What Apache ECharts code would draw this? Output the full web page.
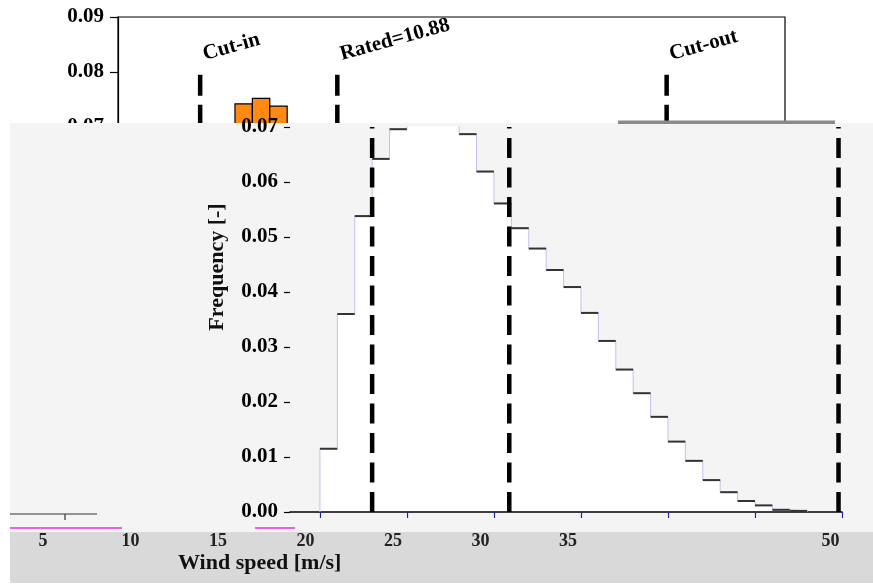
<!DOCTYPE html>
<html><head><meta charset="utf-8">
<script src="https://cdn.jsdelivr.net/npm/echarts@6/dist/echarts.min.js"></script>
<style>html,body{margin:0;padding:0;background:#fff}#c{width:873px;height:584px}</style>
</head><body><div id="c"></div>
<script>
// ---- data ----
const binStarts = [0,1,2,3,4,5,6,7,8,9,10,11,12,13,14,15,16,17,18,19,20,21,22,23,24,25,26,27];
const frequency = [0.0115,0.0360,0.0538,0.0642,0.0696,0.0742,0.0752,0.0738,0.0687,0.0619,0.0561,0.0516,0.0479,0.0440,0.0409,0.0362,0.0311,0.0259,0.0216,0.0173,0.0128,0.0093,0.0058,0.0036,0.0020,0.0012,0.0004,0.0002];
const binWidth = 1;
const markerSpeeds = [3, 10.88, 29.8];
const markerNames = ['Cut-in', 'Rated=10.88', 'Cut-out'];
const xTickValues = [0,5,10,15,20,25,30];
const xLabelValues = [5,10,15,20,25,30,35,50];
const xAxisTitle = 'Wind speed [m/s]';
const yAxisTitle = 'Frequency [-]';

// ---- layout ----
const SERIF = '"Liberation Serif", "DejaVu Serif", serif';
const topYMin = 0.07, topYMax = 0.09, lowYMax = 0.07;
const markerTop = 0.0795, markerTextY = 0.0813;

const chart = echarts.init(document.getElementById('c'));

const stepPoints = [[binStarts[0], 0]]
  .concat(binStarts.map((s, i) => [s, frequency[i]]))
  .concat([[binStarts[binStarts.length-1] + binWidth, frequency[frequency.length-1]],
           [binStarts[binStarts.length-1] + binWidth, 0]]);

const topBarData = binStarts.map((s, i) => [s, frequency[i]]).filter(d => d[1] > topYMin);

const option = {
  animation: false,
  backgroundColor: '#fff',
  grid: [
    {left: 118, top: 17, width: 667, height: 110, show: true, borderColor: '#000', borderWidth: 1.2, z: 0},
    {left: 290, top: 127, width: 552, height: 385},
    {left: 43, top: 500, width: 787.5, height: 30}
  ],
  xAxis: [
    {gridIndex: 0, type: 'value', min: -1.72, max: 36.6, show: false, z: 0},
    {gridIndex: 1, type: 'value', min: -1.72, max: 30, z: 3,
      axisLine: {show: true, onZero: false, lineStyle: {color: '#000', width: 1.5}},
      axisTick: {show: true, length: 6, customValues: xTickValues, lineStyle: {color: '#2323a8', width: 1.2}},
      axisLabel: {show: false}, splitLine: {show: false}},
    {gridIndex: 2, type: 'value', min: 5, max: 50, z: 3,
      axisLine: {show: false, onZero: false}, axisTick: {show: false}, splitLine: {show: false},
      axisLabel: {show: true, customValues: xLabelValues, margin: 2,
        fontFamily: SERIF, fontWeight: 'bold', fontSize: 18, color: '#222'}}
  ],
  yAxis: [
    {gridIndex: 0, type: 'value', min: topYMin, max: topYMax, interval: 0.01, z: 0,
      axisLine: {show: true, onZero: false, lineStyle: {color: '#000', width: 1.2}},
      axisTick: {show: true, length: 8, lineStyle: {color: '#000', width: 1.2}},
      axisLabel: {margin: 14, formatter: v => v.toFixed(2), fontFamily: SERIF, fontWeight: 'bold', fontSize: 21, color: '#000'},
      splitLine: {show: false}},
    {gridIndex: 1, type: 'value', min: 0, max: lowYMax, interval: 0.01, z: 3,
      axisLine: {show: false, onZero: false},
      axisTick: {show: true, length: 6, lineStyle: {color: '#000', width: 1.2}},
      axisLabel: {margin: 12, formatter: v => v.toFixed(2), fontFamily: SERIF, fontWeight: 'bold', fontSize: 21, color: '#000'},
      splitLine: {show: false}},
    {gridIndex: 2, type: 'value', show: false, min: 0, max: 1}
  ],
  series: [
    {
      type: 'custom', name: 'topBars', xAxisIndex: 0, yAxisIndex: 0, z: 0, clip: true,
      data: topBarData,
      renderItem: (params, api) => {
        const p0 = api.coord([api.value(0), api.value(1)]);
        const p1 = api.coord([api.value(0) + binWidth, topYMin]);
        return {type: 'rect', shape: {x: p0[0], y: p0[1], width: p1[0] - p0[0], height: p1[1] - p0[1]},
          style: {fill: '#ff8a12', stroke: '#000', lineWidth: 1.2}};
      }
    },
    {
      type: 'custom', name: 'topMarkers', xAxisIndex: 0, yAxisIndex: 0, z: 0,
      data: markerSpeeds.map((s, i) => [s, i]),
      renderItem: (params, api) => {
        const s = api.value(0);
        const a = api.coord([s, markerTop]);
        const b = api.coord([s, topYMin]);
        const t = api.coord([s, markerTextY]);
        return {type: 'group', children: [
          {type: 'line', shape: {x1: a[0], y1: a[1], x2: b[0], y2: b[1]},
            style: {stroke: '#000', lineWidth: 4.5, lineDash: [21, 9]}},
          {type: 'text', x: t[0] + 6, y: t[1], rotation: 0.27,
            style: {text: markerNames[params.dataIndex], x: 0, y: 0, align: 'left', verticalAlign: 'bottom',
              font: 'bold 21px ' + SERIF, fill: '#000'}}
        ]};
      }
    },
    {
      type: 'line', name: 'Frequency', xAxisIndex: 1, yAxisIndex: 1, z: 3,
      step: 'end', symbol: 'none', data: stepPoints,
      lineStyle: {color: '#c2c2ee', width: 1},
      areaStyle: {color: '#ffffff', opacity: 1}
    },
    {
      type: 'custom', name: 'stepTops', xAxisIndex: 1, yAxisIndex: 1, z: 4, clip: true,
      data: binStarts.map((s, i) => [s, frequency[i]]),
      renderItem: (params, api) => {
        const a = api.coord([api.value(0), api.value(1)]);
        const b = api.coord([api.value(0) + binWidth, api.value(1)]);
        return {type: 'line', shape: {x1: a[0], y1: a[1], x2: b[0], y2: b[1]},
          style: {stroke: '#333', lineWidth: 2}};
      }
    },
    {
      type: 'custom', name: 'lowMarkers', xAxisIndex: 1, yAxisIndex: 1, z: 5,
      data: markerSpeeds.map((s, i) => [s, i]),
      renderItem: (params, api) => {
        const a = api.coord([api.value(0), 0]);
        const b = api.coord([api.value(0), lowYMax]);
        return {type: 'line', shape: {x1: a[0], y1: a[1], x2: b[0], y2: b[1]},
          style: {stroke: '#000', lineWidth: 4.5, lineDash: [20, 9.5]}};
      }
    }
  ],
  graphic: {elements: [
    {type: 'rect', z: 1, silent: true, shape: {x: 10, y: 123, width: 863, height: 409}, style: {fill: '#f4f4f4'}},
    {type: 'rect', z: 1, silent: true, shape: {x: 10, y: 532, width: 863, height: 51}, style: {fill: '#d9d9d9'}},
    {type: 'rect', z: 6, silent: true, shape: {x: 618, y: 120.5, width: 217, height: 3.5}, style: {fill: '#8a8a8a'}},
    {type: 'line', z: 6, silent: true, shape: {x1: 10, y1: 514, x2: 97, y2: 514}, style: {stroke: '#333', lineWidth: 1.2}},
    {type: 'line', z: 6, silent: true, shape: {x1: 65, y1: 514, x2: 65, y2: 520}, style: {stroke: '#333', lineWidth: 1.2}},
    {type: 'line', z: 6, silent: true, shape: {x1: 10, y1: 528, x2: 122, y2: 528}, style: {stroke: '#e030e0', lineWidth: 1.5}},
    {type: 'line', z: 6, silent: true, shape: {x1: 255, y1: 528, x2: 295, y2: 528}, style: {stroke: '#e030e0', lineWidth: 1.5}},
    {type: 'text', z: 6, x: 178, y: 563, style: {text: xAxisTitle, font: 'bold 22px ' + SERIF, fill: '#111', align: 'left', verticalAlign: 'middle'}},
    {type: 'text', z: 6, x: 217, y: 267, rotation: Math.PI / 2, style: {text: yAxisTitle, font: 'bold 22px ' + SERIF, fill: '#111', align: 'center', verticalAlign: 'middle'}}
  ]}
};
chart.setOption(option);
</script>
</body></html>
